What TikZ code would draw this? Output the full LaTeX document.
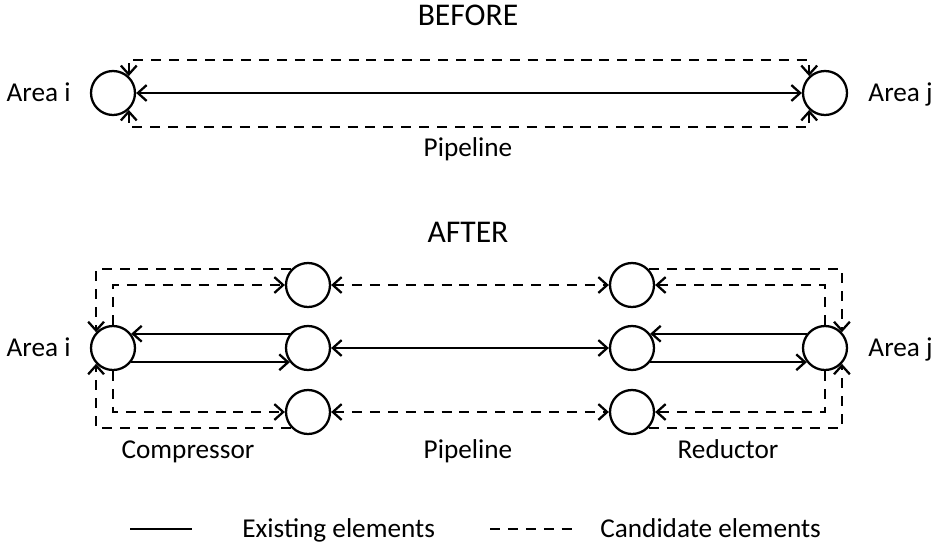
\documentclass[tikz,border=0pt]{standalone}
\usepackage{fontspec}
\setmainfont{Carlito}
\usetikzlibrary{arrows.meta, positioning}

\begin{document}
\begin{tikzpicture}[
    x=0.02cm, y=-0.02cm,
    every node/.style={font=\fontsize{15.5pt}{18pt}\selectfont},
    area/.style={draw, circle, line width=1.3pt, minimum size=0.88cm, inner sep=0pt},
    lbl/.style={inner sep=0pt, text height=1.6ex, text depth=0.45ex, yshift=-0.08cm},
    title/.style={lbl, font=\fontsize{18pt}{20pt}\selectfont},
    exist/.style={line width=1.3pt, arrows={-Straight Barb[length=5pt, width=9pt]}},
    cand/.style={exist, dash pattern=on 5.7pt off 4.5pt},
    twoway/.style={arrows={Straight Barb[length=5pt, width=9pt]-Straight Barb[length=5pt, width=9pt]}}
]
    \useasboundingbox (0,0) rectangle (934,545);

    % Before
    \node[title] (tb) at (468,17) {BEFORE};
    \node[area] (bi) at (113,93) {};
    \node[area] (bj) at (825,93) {};
    \node[lbl, left=0.38cm of bi] (lbi) {Area i};
    \node[lbl, right=0.4cm of bj] (lbj) {Area j};
    \coordinate (btop) at (0,60);
    \coordinate (bbot) at (0,127);

    \draw[exist, twoway] (bi) -- (bj);
    \draw[cand, twoway] (bi.47) -- (bi.47 |- btop) -- (bj.133 |- btop) -- (bj.133);
    \draw[cand, twoway] (bi.-47) -- (bi.-47 |- bbot) -- (bj.-133 |- bbot) -- (bj.-133);
    \node[lbl] (pb) at (468,148) {Pipeline};

    % After
    \node[title] (ta) at (468,234) {AFTER};
    \node[area] (ai) at (113,348) {};
    \node[area] (aj) at (825,348) {};
    \node[lbl, left=0.38cm of ai] (lai) {Area i};
    \node[lbl, right=0.4cm of aj] (laj) {Area j};

    \node[area] (c1) at (308,285) {};
    \node[area] (c2) at (308,348) {};
    \node[area] (c3) at (308,412) {};
    \node[area] (r1) at (632,285) {};
    \node[area] (r2) at (632,348) {};
    \node[area] (r3) at (632,412) {};

    % compressor side
    \draw[cand] (c1.137) -| (ai.137);
    \draw[cand] (ai.north) |- (c1.west);
    \draw[exist] (c2.142) -- (ai.38);
    \draw[exist] (ai.-38) -- (c2.-142);
    \draw[cand] (ai.south) |- (c3.west);
    \draw[cand] (c3.-137) -| (ai.-137);

    % pipeline
    \draw[cand, twoway] (c1) -- (r1);
    \draw[exist, twoway] (c2) -- (r2);
    \draw[cand, twoway] (c3) -- (r3);

    % reductor side
    \draw[cand] (r1.43) -| (aj.43);
    \draw[cand] (aj.north) |- (r1.east);
    \draw[exist] (aj.142) -- (r2.38);
    \draw[exist] (r2.-38) -- (aj.-142);
    \draw[cand] (aj.south) |- (r3.east);
    \draw[cand] (r3.-43) -| (aj.-43);

    % Labels
    \node[lbl] (lc) at (188,450) {Compressor};
    \node[lbl] (lp) at (468,450) {Pipeline};
    \node[lbl] (lr) at (728,450) {Reductor};

    % Legend
    \coordinate (s1) at (130,529);
    \coordinate (s2) at (192,529);
    \coordinate (d1) at (490,529);
    \coordinate (d2) at (577,529);
    \draw[line width=1.3pt] (s1) -- (s2);
    \draw[line width=1.3pt, dash pattern=on 5.7pt off 4.5pt] (d1) -- (d2);
    \node[lbl, anchor=west] (le) at (242,529) {Existing elements};
    \node[lbl, anchor=west] (lcand) at (600,529) {Candidate elements};
\end{tikzpicture}
\end{document}
